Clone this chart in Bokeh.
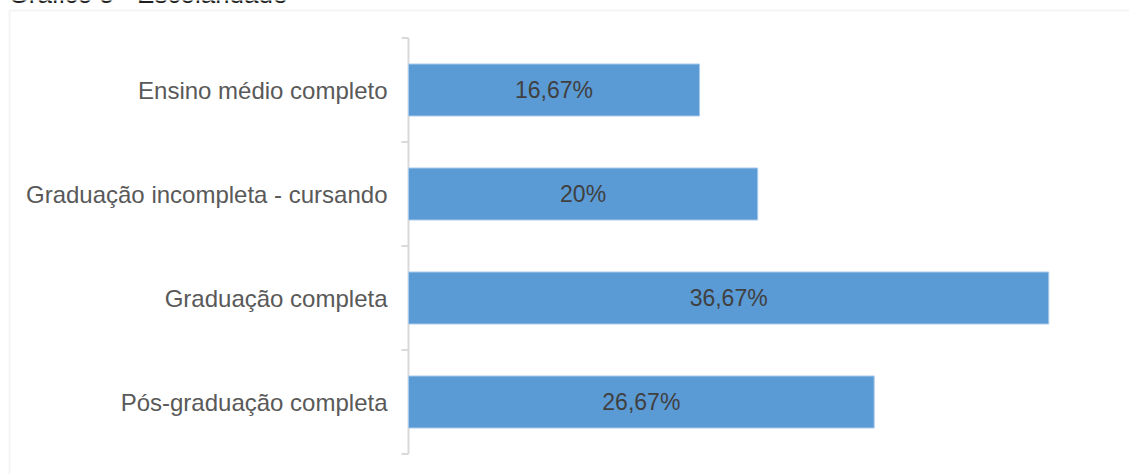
from bokeh.plotting import figure
from bokeh.models import Range1d, BoxAnnotation, Label, ColumnDataSource
from bokeh.embed import file_html
from bokeh.resources import INLINE
from bokeh.core.properties import value

title = "Gráfico 5 - Escolaridade"
categories = ["Ensino médio completo", "Graduação incompleta - cursando",
              "Graduação completa", "Pós-graduação completa"]
values = [16.67, 20.0, 36.67, 26.67]
labels = ["16,67%", "20%", "36,67%", "26,67%"]

n = len(categories)
pos = [n - i - 0.5 for i in range(n)]  # category centres, top to bottom
bounds = list(range(n + 1))             # category boundaries (axis ticks)

W, H = 1129, 474
PX_PER_PCT = 17.46     # horizontal scale (px per percent)
X0 = 408               # pixel where 0 % lies
PX_PER_CAT = 104       # vertical size of one category band
TOP = 37.5             # pixel of the top axis tick

x_start = -X0 / PX_PER_PCT
x_end = (W - X0) / PX_PER_PCT
y_end = n + TOP / PX_PER_CAT
y_start = -(H - TOP - n * PX_PER_CAT) / PX_PER_CAT

p = figure(width=W, height=H, output_backend="svg", toolbar_location=None,
           x_range=Range1d(x_start, x_end), y_range=Range1d(y_start, y_end),
           x_axis_location=None, y_axis_location=None,
           min_border_left=0, min_border_right=0, min_border_top=0, min_border_bottom=0)
p.outline_line_color = None
p.xgrid.grid_line_color = None
p.ygrid.grid_line_color = None
p.background_fill_color = "white"
p.border_fill_color = "white"

# border box of the chart area (its right / bottom edges lie off the page)
p.add_layout(BoxAnnotation(left=9, right=W + 200, top=10, bottom=H + 200,
                           left_units="canvas", right_units="canvas",
                           top_units="canvas", bottom_units="canvas",
                           fill_color=None, fill_alpha=0, line_color="#d9d9d9",
                           line_width=2))

# category axis: line and boundary ticks
tick_len = 7 / PX_PER_PCT
p.segment(x0=[0], y0=[0], x1=[0], y1=[n], line_color="#d9d9d9", line_width=2)
p.segment(x0=[-tick_len] * len(bounds), y0=bounds, x1=[0] * len(bounds), y1=bounds,
          line_color="#d9d9d9", line_width=2)

src = ColumnDataSource(dict(y=pos, v=values, mid=[v / 2 for v in values],
                            lab=labels, cat=categories))

p.hbar(y="y", left=0, right="v", height=0.5, source=src,
       fill_color="#5b9bd5", line_color="#a9c9ec", line_width=1)
p.text(x="mid", y="y", text="lab", source=src, text_align="center",
       text_baseline="middle", text_color="#404040",
       text_font=value("Liberation Sans"), text_font_size="23px")

# category labels
p.text(x=-21 / PX_PER_PCT, y="y", text="cat", source=src, text_align="right",
       text_baseline="middle", text_color="#595959",
       text_font=value("Liberation Sans"), text_font_size="24px")

# chart title, mostly above the page edge as in the reference
p.add_layout(Label(x=8, y=-7, x_units="canvas", y_units="canvas", text=title,
                   text_baseline="alphabetic", text_font="Liberation Sans",
                   text_font_size="26px", text_color="#1f1f1f"))

open("out.html", "w").write(file_html(p, INLINE))
